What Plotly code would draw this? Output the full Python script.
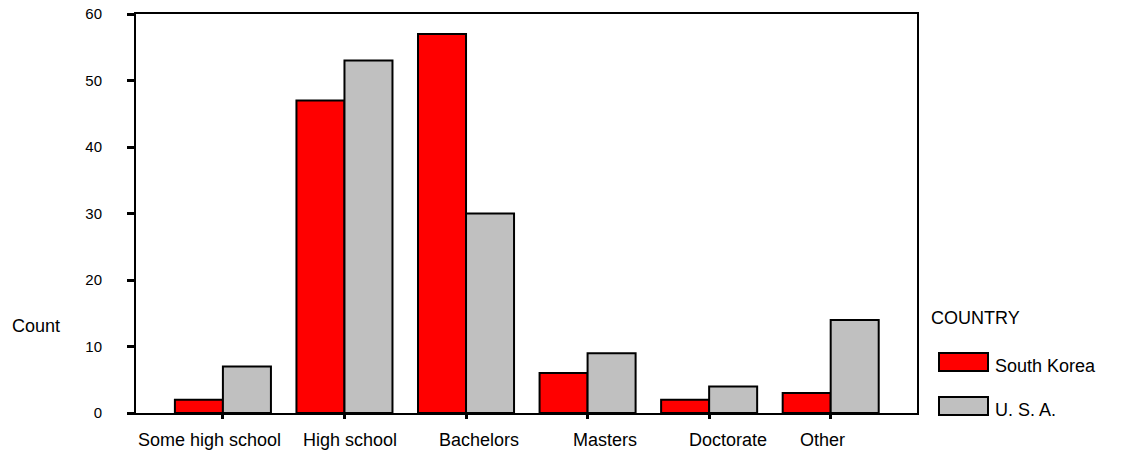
import plotly.graph_objects as go

categories = ["Some high school", "High school", "Bachelors", "Masters", "Doctorate", "Other"]
south_korea = [2, 47, 57, 6, 2, 3]
usa = [7, 53, 30, 9, 4, 14]
series_names = ["South Korea", "U. S. A."]
colors = ["#ff0000", "#c0c0c0"]
y_ticks = [0, 10, 20, 30, 40, 50, 60]
# horizontal nudge of each category label (category units), as in the reference
label_offsets = [-0.107, 0.049, 0.107, 0.14, 0.156, -0.066]

W, H = 1133, 451
L, R, T, B = 136, 216, 14, 38
FONT = "Liberation Sans, Arial, sans-serif"

fig = go.Figure()
for name, vals, col in zip(series_names, [south_korea, usa], colors):
    fig.add_trace(go.Bar(
        x=list(range(len(categories))), y=vals, name=name,
        marker=dict(color=col, line=dict(color="black", width=2)),
        showlegend=False, hoverinfo="skip",
    ))

fig.update_layout(
    width=W, height=H,
    margin=dict(l=L, r=R, t=T, b=B, pad=0, autoexpand=False),
    paper_bgcolor="white", plot_bgcolor="white",
    barmode="group", bargap=0.21, bargroupgap=0,
    font=dict(family=FONT, color="black"),
    xaxis=dict(
        range=[-0.715, 5.71], tickvals=list(range(len(categories))),
        showticklabels=False, showgrid=False, zeroline=False,
        showline=True, linecolor="black", linewidth=2, mirror=True,
        ticks="outside", ticklen=4, tickwidth=3, tickcolor="black",
        fixedrange=True, automargin=False,
    ),
    yaxis=dict(
        range=[0, 60], tickvals=y_ticks, showgrid=False, zeroline=False,
        showline=True, linecolor="black", linewidth=2, mirror=True,
        ticks="outside", ticklen=7, tickwidth=3, tickcolor="black",
        tickfont=dict(size=15), ticklabelstandoff=22, fixedrange=True,
        automargin=False,
    ),
)

# category labels
for i, (cat, off) in enumerate(zip(categories, label_offsets)):
    fig.add_annotation(text=cat, x=i + off, xref="x", y=0, yref="paper",
                       yshift=-27, xanchor="center", yanchor="middle",
                       showarrow=False, font=dict(size=18))

pw, ph = W - L - R, H - T - B
def px_x(x):
    return (x - L) / pw
def px_y(y):
    return (H - B - y) / ph

# y-axis title (horizontal)
fig.add_annotation(text="Count", xref="paper", yref="paper",
                   x=px_x(10), xanchor="left", y=px_y(326), yanchor="middle",
                   showarrow=False, font=dict(size=18))

# legend (custom)
fig.add_annotation(text="COUNTRY", xref="paper", yref="paper",
                   x=px_x(929), xanchor="left", y=px_y(318), yanchor="middle",
                   showarrow=False, font=dict(size=18))
for i, (name, col) in enumerate(zip(series_names, colors)):
    yc = 362 + i * 44
    fig.add_shape(type="rect", xref="paper", yref="paper",
                  x0=px_x(939), x1=px_x(988), y0=px_y(yc - 9), y1=px_y(yc + 9),
                  fillcolor=col, line=dict(color="black", width=2))
    fig.add_annotation(text=name, xref="paper", yref="paper",
                       x=px_x(993), xanchor="left", y=px_y(yc + 4), yanchor="middle",
                       showarrow=False, font=dict(size=18))

fig.write_html("out.html", config={"displayModeBar": False, "staticPlot": True},
               post_script="document.body.style.margin='0';document.body.style.padding='0';document.body.style.overflow='hidden';")
